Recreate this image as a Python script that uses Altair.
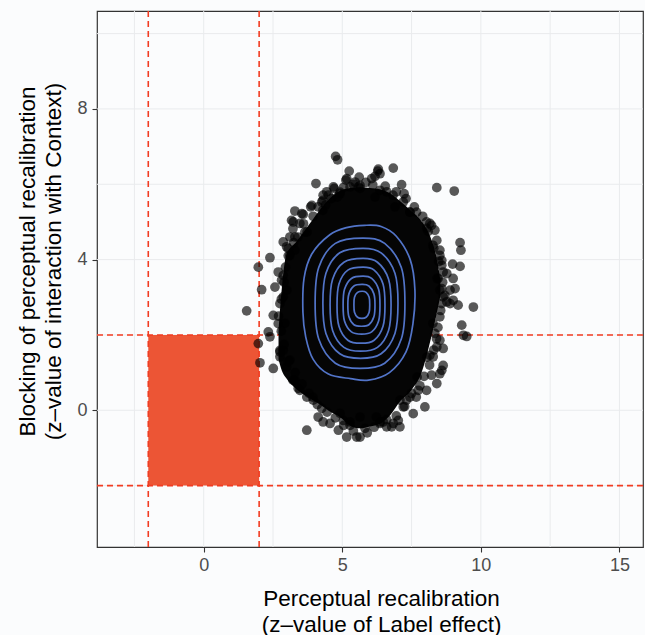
import altair as alt
import pandas as pd

# ---------------- data ----------------
x_major = [0, 5, 10, 15]
x_minor = [-2.5, 2.5, 7.5, 12.5]
y_major = [0, 4, 8]
y_minor = [-2, 2, 6, 10]

thr_x = [-2, 2]
thr_y = [-2, 2]

# dense, fully black core of the point cloud (lower / upper edge per x)
core_x = [2.70, 2.82, 2.98, 3.35, 3.75, 4.15, 4.52, 4.91, 5.28, 5.64, 6.00, 6.36, 6.72, 7.10, 7.48, 7.86, 8.18, 8.42, 8.54]
core_hi = [2.12, 3.25, 4.12, 4.48, 4.88, 5.28, 5.60, 5.82, 5.90, 5.92, 5.90, 5.87, 5.76, 5.54, 5.30, 5.02, 4.60, 3.98, 3.45]
core_lo = [1.35, 1.05, 0.85, 0.56, 0.35, 0.17, -0.02, -0.18, -0.41, -0.48, -0.43, -0.36, -0.14, 0.25, 0.52, 1.00, 1.85, 2.62, 3.05]

# individual simulated z-values visible around the cloud
pt_x = [4.76, 4.83, 6.84, 5.25, 5.61, 6.28, 6.18, 6.36, 4.05, 5.13, 5.28, 5.64, 7.14, 7.23, 6.60, 8.41, 9.04,
        4.68, 4.44, 4.92, 3.90, 3.29, 3.59, 4.26, 3.17, 3.22, 3.11, 2.87, 2.99, 3.29, 2.39, 1.97, 2.09, 2.69,
        2.57, 2.81, 8.16, 8.34, 8.41, 9.25, 9.28, 8.98, 9.25, 8.77, 9.00, 8.89, 8.52, 8.59,
        2.87, 3.05, 3.23, 3.54, 3.86, 4.13, 4.31, 4.50, 4.71, 4.82, 5.16, 5.46, 5.58, 3.47, 3.65, 3.29,
        6.30, 6.06, 6.18, 7.68, 8.04, 8.22, 8.52, 8.59, 8.46, 8.64, 9.07, 8.59, 7.20, 7.44, 6.90,
        1.55, 1.97, 2.03, 2.51, 2.33, 2.39, 2.51, 2.69, 2.87, 2.75, 2.99, 3.29, 3.41, 3.72, 3.95, 4.26, 4.13,
        4.31, 3.72, 4.56, 4.86, 5.16, 5.52, 5.04, 5.28, 5.64, 6.36, 6.60, 6.84, 7.08, 7.02, 7.56, 7.98, 7.32,
        7.67, 8.22, 8.59, 8.41, 8.04, 8.64, 8.89, 9.18, 9.73, 9.31, 9.37, 8.52, 8.64, 8.28,
        2.75, 2.87, 3.47, 3.11, 2.75,
        9.49, 9.00, 8.77, 8.52, 8.16, 6.78, 6.48, 6.23, 5.64, 7.44, 7.74, 7.20, 8.41, 8.34, 8.52, 8.59, 8.64,
        4.30, 4.92, 5.64, 6.36, 6.83, 7.44, 8.05, 8.27, 8.42, 8.52, 8.27, 8.05, 7.70, 7.08, 6.36, 5.82,
        5.28, 4.92, 3.94, 3.22, 2.75, 2.93, 3.00, 3.11, 3.73, 4.30,
        3.40, 3.60, 3.95, 4.40, 4.60, 5.05, 5.40, 5.85, 6.10, 6.55, 6.95, 7.30, 7.60, 7.90, 8.10, 8.30, 8.48,
        8.62, 8.70, 8.55, 8.45, 8.40, 8.30, 8.15, 7.95, 7.80, 7.50, 7.25, 6.95, 6.60, 6.15, 5.90, 5.40, 5.05,
        4.75, 4.45, 4.10, 3.80, 3.55, 3.30, 3.05, 2.90, 2.80, 2.70, 2.80, 2.90, 2.95, 3.05, 3.25]
pt_y = [6.74, 6.65, 6.43, 6.35, 6.19, 6.35, 6.21, 6.28, 6.02, 6.11, 5.93, 5.97, 5.99, 5.75, 5.80, 5.91, 5.82,
        5.93, 5.80, 5.75, 5.44, 5.29, 5.20, 5.53, 5.04, 4.82, 4.60, 4.47, 4.34, 4.25, 4.05, 3.80, 3.20, 3.67,
        3.27, 3.45, 4.96, 4.78, 4.51, 4.45, 4.25, 3.88, 3.82, 3.63, 3.50, 3.19, 4.25, 3.98,
        3.58, 4.29, 5.00, 5.22, 5.40, 5.40, 5.71, 5.71, 5.89, 5.66, 6.15, 6.06, 5.93, 4.96, 4.73, 4.60,
        6.40, 6.15, 5.66, 5.26, 5.00, 4.91, 4.11, 3.85, 3.50, 3.67, 3.23, 3.23, 5.53, 5.26, 5.40,
        2.64, 1.77, 1.26, 1.11, 2.08, 1.95, 2.52, 2.30, 1.59, 1.42, 1.15, 0.80, 0.58, 0.35, 0.27, 0.05, -0.18,
        -0.31, -0.53, -0.35, -0.53, -0.71, -0.71, -0.27, -0.31, -0.18, -0.31, -0.44, -0.35, -0.44, -0.27, -0.09, 0.09, 0.27,
        0.35, 0.93, 1.06, 0.71, 0.53, 1.19, 2.83, 2.79, 2.74, 2.26, 1.99, 1.86, 1.64, 1.42,
        2.83, 3.01, 0.53, 1.33, 1.55,
        1.96, 2.92, 2.88, 0.97, 1.46, -0.44, -0.31, -0.18, -0.71, 0.35, 0.53, 0.09, 1.68, 2.04, 2.48, 2.83, 3.01,
        5.57, 5.79, 5.89, 5.84, 5.71, 5.26, 4.83, 4.38, 3.50, 3.19, 2.31, 1.41, 0.88, 0.27, -0.35, -0.48,
        -0.40, -0.08, 0.35, 0.80, 1.59, 2.31, 3.19, 4.11, 4.73, 5.31,
        4.60, 4.95, 5.15, 5.45, 5.62, 5.92, 6.00, 6.05, 5.98, 5.95, 5.80, 5.62, 5.40, 5.15, 4.75, 4.30, 3.95,
        3.40, 3.05, 2.65, 2.20, 1.90, 1.60, 1.20, 0.90, 0.65, 0.45, 0.10, -0.15, -0.25, -0.45, -0.60, -0.55, -0.40,
        -0.20, -0.05, 0.15, 0.45, 0.70, 1.00, 1.30, 1.75, 2.10, 2.50, 2.95, 3.40, 3.80, 4.10, 4.45]

# 2-D density contours (outer to inner)
ring1_x = [5.80, 6.40, 6.95, 7.45, 7.62, 7.55, 7.30, 6.70, 5.95, 5.30, 4.50, 3.95, 3.68, 3.58, 3.62, 3.90, 4.55, 5.15]
ring1_y = [4.91, 4.88, 4.62, 4.00, 3.20, 2.30, 1.55, 1.00, 0.80, 0.84, 0.96, 1.35, 1.95, 2.60, 3.50, 4.15, 4.66, 4.85]
ring2_x = [5.75, 6.53, 7.13, 7.26, 7.13, 6.53, 5.64, 4.75, 4.15, 4.02, 4.15, 4.75]
ring2_y = [4.57, 4.43, 3.79, 2.84, 1.89, 1.25, 1.11, 1.25, 1.89, 2.84, 3.79, 4.43]
ring3_x = [5.75, 6.40, 6.90, 7.01, 6.90, 6.40, 5.66, 4.91, 4.41, 4.30, 4.41, 4.91]
ring3_y = [4.30, 4.18, 3.64, 2.84, 2.04, 1.50, 1.38, 1.50, 2.04, 2.84, 3.64, 4.18]
ring4_x = [5.75, 6.27, 6.67, 6.76, 6.67, 6.27, 5.66, 5.06, 4.65, 4.56, 4.65, 5.06]
ring4_y = [4.03, 3.93, 3.48, 2.80, 2.12, 1.67, 1.57, 1.67, 2.12, 2.80, 3.48, 3.93]
ring5_x = [5.75, 6.15, 6.47, 6.54, 6.47, 6.15, 5.68, 5.20, 4.88, 4.81, 4.88, 5.20]
ring5_y = [3.80, 3.72, 3.35, 2.79, 2.23, 1.86, 1.78, 1.86, 2.23, 2.79, 3.35, 3.72]
ring6_x = [5.75, 6.06, 6.31, 6.36, 6.31, 6.06, 5.70, 5.33, 5.08, 5.03, 5.08, 5.33]
ring6_y = [3.56, 3.50, 3.21, 2.79, 2.37, 2.08, 2.02, 2.08, 2.37, 2.79, 3.21, 3.50]
ring7_x = [5.72, 5.96, 6.14, 6.18, 6.14, 5.96, 5.69, 5.42, 5.24, 5.20, 5.24, 5.42]
ring7_y = [3.34, 3.30, 3.09, 2.79, 2.48, 2.27, 2.23, 2.27, 2.48, 2.79, 3.09, 3.30]
ring8_x = [5.72, 5.86, 5.97, 5.99, 5.97, 5.86, 5.71, 5.55, 5.44, 5.42, 5.44, 5.55]
ring8_y = [3.16, 3.13, 3.00, 2.80, 2.60, 2.47, 2.44, 2.47, 2.60, 2.80, 3.00, 3.13]

# ---------------- tables ----------------
rings = [(ring1_x, ring1_y), (ring2_x, ring2_y), (ring3_x, ring3_y), (ring4_x, ring4_y),
         (ring5_x, ring5_y), (ring6_x, ring6_y), (ring7_x, ring7_y), (ring8_x, ring8_y)]
rows = []
for r, (rx, ry) in enumerate(rings):
    for i, (a, b) in enumerate(zip(rx, ry)):
        rows.append({"ring": r, "i": i, "x": a, "y": b})
contour_df = pd.DataFrame(rows)

pts_df = pd.DataFrame({"x": pt_x, "y": pt_y})
core_df = pd.DataFrame({"x": core_x, "lo": core_lo, "hi": core_hi})
xgrid_df = pd.DataFrame({"x": x_major + x_minor})
ygrid_df = pd.DataFrame({"y": y_major + y_minor})
vline_df = pd.DataFrame({"x": thr_x})
hline_df = pd.DataFrame({"y": thr_y})
rect_df = pd.DataFrame({"x": [thr_x[0]], "x2": [thr_x[1]], "y": [thr_y[0]], "y2": [thr_y[1]]})

FONT = "Liberation Sans"
xs = alt.Scale(domain=[-3.85, 15.85], nice=False, zero=False)
ys = alt.Scale(domain=[-3.63, 10.6], nice=False, zero=False)

xaxis = alt.Axis(values=x_major, grid=False, domain=False, tickSize=5, tickColor="#333333", tickWidth=1.1,
                 labelFontSize=18, labelColor="#4d4d4d", labelFont=FONT, labelPadding=4, labelFlush=False,
                 format="d",
                 title=["Perceptual recalibration", "(z\u2013value of Label effect)"],
                 titleFont=FONT, titleFontSize=22.5, titleFontWeight="normal", titleColor="black",
                 titleLineHeight=26, titleBaseline="top", titleAlign="center", titleX=284, titleY=40)
yaxis = alt.Axis(values=y_major, grid=False, domain=False, tickSize=5, tickColor="#333333", tickWidth=1.1,
                 labelFontSize=18, labelColor="#4d4d4d", labelFont=FONT, labelPadding=5, labelFlush=False,
                 format="d",
                 title=["Blocking of perceptual recalibration", "(z\u2013value of interaction with Context)"],
                 titleFont=FONT, titleFontSize=22.5, titleFontWeight="normal", titleColor="black",
                 titleLineHeight=26, titleBaseline="top", titleAlign="center", titleAngle=270,
                 titleX=-81, titleY=250)

X = lambda f: alt.X(f, type="quantitative", scale=xs, axis=xaxis)
Y = lambda f: alt.Y(f, type="quantitative", scale=ys, axis=yaxis)

xgrid = alt.Chart(xgrid_df).mark_rule(color="#e9ebed", strokeWidth=1).encode(x=X("x"))
ygrid = alt.Chart(ygrid_df).mark_rule(color="#e9ebed", strokeWidth=1).encode(y=Y("y"))

rect = alt.Chart(rect_df).mark_rect(color="#ec5535", opacity=1).encode(
    x=X("x"), x2="x2", y=Y("y"), y2="y2")

vlines = alt.Chart(vline_df).mark_rule(color="#f23c22", strokeWidth=1.6, strokeDash=[6, 4]).encode(x=X("x"))
hlines = alt.Chart(hline_df).mark_rule(color="#f23c22", strokeWidth=1.6, strokeDash=[6, 4]).encode(y=Y("y"))

core = alt.Chart(core_df).mark_area(color="#050505", interpolate="monotone", opacity=1).encode(
    x=X("x"), y=Y("lo"), y2="hi")

points = alt.Chart(pts_df).mark_circle(size=95, color="black", opacity=0.65).encode(x=X("x"), y=Y("y"))

contours = alt.Chart(contour_df).mark_line(color="#5274c8", strokeWidth=1.7, interpolate="cardinal-closed").encode(
    x=X("x"), y=Y("y"), detail="ring:N", order="i:Q")

chart = alt.layer(xgrid, ygrid, rect, vlines, hlines, core, points, contours).properties(
    width=546, height=536,
    padding={"left": 97, "top": 11, "right": 2, "bottom": 88},
    autosize=alt.AutoSizeParams(type="none"),
    background="#fbfcfd",
).configure_view(stroke="#333333", strokeWidth=1.2, fill="#fbfcfd")

chart.save("out.html", embed_options={"renderer": "svg", "actions": False})
